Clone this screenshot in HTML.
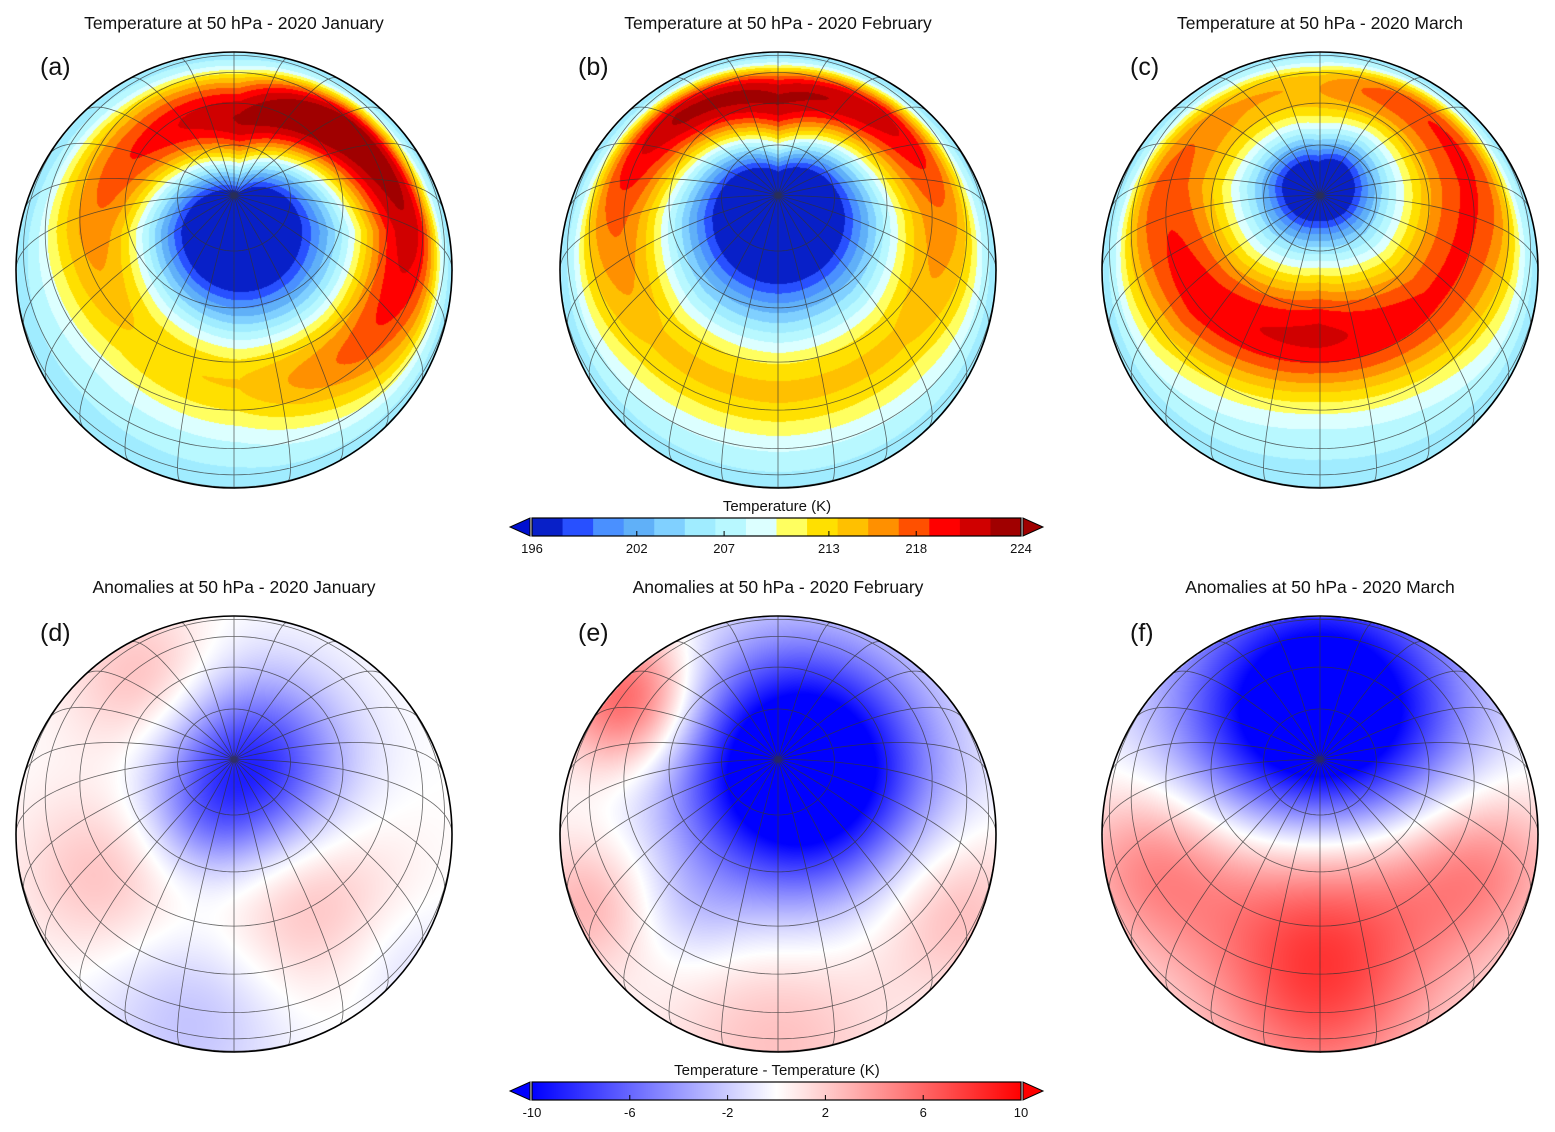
<!DOCTYPE html>
<html><head><meta charset="utf-8">
<style>
body{margin:0;background:#fff;width:1555px;height:1132px;overflow:hidden;font-family:"Liberation Sans",sans-serif;}
canvas{position:absolute;}
#ov{position:absolute;left:0;top:0;}
</style></head>
<body>
<div id="wrap"></div>
<svg id="ov" width="1555" height="1132"></svg>
<script>
// ---- Temperature colour scale ----
const tempTicks = [196, 202, 207, 213, 218, 224];
const tempColors = ["#0820c8","#2850ff","#4a90ff","#60b0f8","#80d0ff","#a0ecff","#b8f8ff","#dcffff",
  "#ffff60","#ffe000","#ffc000","#ff9000","#ff5000","#ff0000","#d00000","#a00000"];
const anomTicks = [-10, -6, -2, 2, 6, 10];
// ---- Panels ----
const panelCx = [234, 778, 1320];
const topCy = 270, botCy = 834, R = 218;
const titlesTop = ["Temperature at  50 hPa - 2020 January","Temperature at  50 hPa - 2020 February","Temperature at  50 hPa - 2020 March"];
const titlesBot = ["Anomalies at  50 hPa - 2020 January","Anomalies at  50 hPa - 2020 February","Anomalies at  50 hPa - 2020 March"];
const letters = [["(a)","(b)","(c)"],["(d)","(e)","(f)"]];
// ring amplitudes (K above base) in 8 directions N,NE,E,SE,S,SW,W,NW
const ringAmpJan = [19, 20, 16, 12, 8, 8, 11, 15];
const ringAmpFeb = [19, 17, 11, 8, 8, 8, 12, 18];
const ringAmpMar = [10, 14, 13, 13, 15, 14, 12, 10];
const ringRadJan = [105, 140, 170, 165, 150, 140, 140, 120];
const ringRadFeb = [110, 140, 160, 170, 175, 170, 160, 140];
const ringRadMar = [95, 135, 150, 160, 150, 160, 150, 115];
const vortexJan = [5, -40, 16, 80];   // dx, dy, cold amplitude, radius
const vortexFeb = [0, -55, 17, 82];
const vortexMar = [-2, -85, 14, 55];
const ringWidth = [55, 55, 68];
const baseTemp = [206, 206, 206];
// anomaly blobs: [dx, dy, sigma, amplitude K]
const blobsJan = [[15,-65,65,-9],[-85,-150,55,3],[70,65,70,3],[-130,40,60,2.5],[-40,180,70,-2.5],[170,130,50,-1.5],[-30,-10,40,-2]];
const blobsFeb = [[22,-64,85,-15],[-148,-134,50,7],[0,200,80,2.5],[170,70,60,3],[-190,70,50,3],[-90,80,40,-1.5]];
const blobsMar = [[0,-110,95,-16],[0,66,100,8],[-170,30,60,4],[160,30,60,4],[0,190,70,3]];

const ringAmps=[ringAmpJan,ringAmpFeb,ringAmpMar], ringRads=[ringRadJan,ringRadFeb,ringRadMar];
const vortices=[vortexJan,vortexFeb,vortexMar], blobs=[blobsJan,blobsFeb,blobsMar];

function hex(c){return [parseInt(c.substr(1,2),16),parseInt(c.substr(3,2),16),parseInt(c.substr(5,2),16)];}
const tempRGB=tempColors.map(hex);
function interp8(arr,t){const i=Math.floor(t)%8,j=(i+1)%8,f=t-Math.floor(t);return arr[i]*(1-f)+arr[j]*f;}
function tempAt(p,dx,dy){
  const v=vortices[p];const x=dx-v[0],y=dy-v[1];const d=Math.hypot(x,y);
  let th=Math.atan2(x,-y);if(th<0)th+=2*Math.PI;const t=th/(Math.PI/4);
  const a=interp8(ringAmps[p],t),r=interp8(ringRads[p],t);
  const rho=Math.hypot(dx,dy);const fade=1-Math.exp(-Math.pow((R-rho)/18,2));
  return baseTemp[p]+fade*a*Math.exp(-Math.pow((d-r)/ringWidth[p],2))-v[2]*Math.exp(-Math.pow(d/v[3],2));
}
function anomAt(p,dx,dy){let s=0;for(const b of blobs[p]){const x=dx-b[0],y=dy-b[1];s+=b[3]*Math.exp(-(x*x+y*y)/(2*b[2]*b[2]));}return s;}
function anomColor(v){let t=Math.max(-1,Math.min(1,v/10));
  if(t<0){const k=Math.round(255*(1+t));return [k,k,255];}const k=Math.round(255*(1-t));return [255,k,k];}

const wrap=document.getElementById('wrap');
for(let row=0;row<2;row++)for(let p=0;p<3;p++){
  const cx=panelCx[p],cy=row?botCy:topCy;
  const c=document.createElement('canvas');c.width=2*R+2;c.height=2*R+2;
  c.style.left=(cx-R-1)+'px';c.style.top=(cy-R-1)+'px';
  
  
  const ctx=c.getContext('2d');const img=ctx.createImageData(c.width,c.height);
  for(let y=0;y<c.height;y++)for(let x=0;x<c.width;x++){
    const dx=x-R-1,dy=y-R-1;if(dx*dx+dy*dy>R*R)continue;
    let col;
    if(row===0){const T=tempAt(p,dx,dy);let i=Math.floor((T-196)/1.75);i=Math.max(0,Math.min(15,i));col=tempRGB[i];}
    else col=anomColor(anomAt(p,dx,dy));
    const k=(y*c.width+x)*4;img.data[k]=col[0];img.data[k+1]=col[1];img.data[k+2]=col[2];img.data[k+3]=255;
  }
  ctx.putImageData(img,0,0);wrap.appendChild(c);
}

const NS="http://www.w3.org/2000/svg";const ov=document.getElementById('ov');
function mk(tag,attrs,parent){const e=document.createElementNS(NS,tag);for(const k in attrs)e.setAttribute(k,attrs[k]);(parent||ov).appendChild(e);return e;}
const phi0=70*Math.PI/180;
function proj(lat,lon){const f=lat*Math.PI/180,l=lon*Math.PI/180;
  const cosc=Math.sin(phi0)*Math.sin(f)+Math.cos(phi0)*Math.cos(f)*Math.cos(l);
  return [R*Math.cos(f)*Math.sin(l),R*(Math.cos(phi0)*Math.sin(f)-Math.sin(phi0)*Math.cos(f)*Math.cos(l)),cosc>0];}
function gratPath(cx,cy){let d="";
  function line(pts){let pen=false;for(const q of pts){const r=proj(q[0],q[1]);if(!r[2]){pen=false;continue;}
    d+=(pen?"L":"M")+(cx+r[0]).toFixed(1)+" "+(cy-r[1]).toFixed(1);pen=true;}}
  for(let lon=0;lon<360;lon+=15){const pts=[];for(let lat=90;lat>=-60;lat-=2)pts.push([lat,lon]);line(pts);}
  for(let lat=75;lat>=-30;lat-=15){const pts=[];for(let lon=-180;lon<=180;lon+=2)pts.push([lat,lon]);line(pts);}
  return d;}
for(let row=0;row<2;row++)for(let p=0;p<3;p++){
  const cx=panelCx[p],cy=row?botCy:topCy;
  const g=mk('path',{d:gratPath(cx,cy),fill:'none',stroke:'#333',"stroke-width":0.8,"stroke-opacity":0.75});
  
  
  const o=mk('circle',{cx:cx,cy:cy,r:R,fill:'none',stroke:'#000',"stroke-width":1.6});
  
  
  const t=mk('text',{x:cx,y:row?593:29,"text-anchor":"middle","font-size":17.5,fill:'#111'});t.textContent=(row?titlesBot:titlesTop)[p];
  
  
  const L=mk('text',{x:[40,578,1130][p],y:row?641:75,"font-size":25,fill:'#111'});L.textContent=letters[row][p];
  
  
}
// colour bars
const x0=532,x1=1021;
function colorbar(y,title,ticks,isTemp){
  const h=18;
  if(isTemp){const w=(x1-x0)/16;tempColors.forEach((c,i)=>{const r=mk('rect',{x:x0+i*w,y:y,width:w+0.5,height:h,fill:c});
      
      });}
  else{const gid='ag';const lg=mk('linearGradient',{id:gid});mk('stop',{offset:'0',"stop-color":'#0000ff'},lg);mk('stop',{offset:'0.5',"stop-color":'#ffffff'},lg);mk('stop',{offset:'1',"stop-color":'#ff0000'},lg);
    const r=mk('rect',{x:x0,y:y,width:x1-x0,height:h,fill:'url(#'+gid+')'});
    
    }
  const b=mk('rect',{x:x0,y:y,width:x1-x0,height:h,fill:'none',stroke:'#000',"stroke-width":1.2});
  
  
  const la=mk('path',{d:`M${x0-2} ${y} L${x0-2} ${y+h} L${x0-22} ${y+h/2}Z`,fill:isTemp?'#0010d0':'#0000ff',stroke:'#000',"stroke-width":1});
  
  
  const ra=mk('path',{d:`M${x1+2} ${y} L${x1+2} ${y+h} L${x1+22} ${y+h/2}Z`,fill:isTemp?'#a00000':'#ff0000',stroke:'#000',"stroke-width":1});
  
  
  const lo=ticks[0],hi=ticks[ticks.length-1];
  ticks.forEach(v=>{const x=x0+(v-lo)/(hi-lo)*(x1-x0);
    const t=mk('text',{x:x,y:y+35,"text-anchor":"middle","font-size":13,fill:'#111'});t.textContent=v;
    
    
    mk('line',{x1:x,x2:x,y1:y+h-5,y2:y+h,stroke:'#000'});});
  const tt=mk('text',{x:777,y:y-7,"text-anchor":"middle","font-size":15,fill:'#111'});tt.textContent=title;
  
  
}
colorbar(518,"Temperature (K)",tempTicks,true);
colorbar(1082,"Temperature - Temperature (K)",anomTicks,false);
</script>
</body></html>
